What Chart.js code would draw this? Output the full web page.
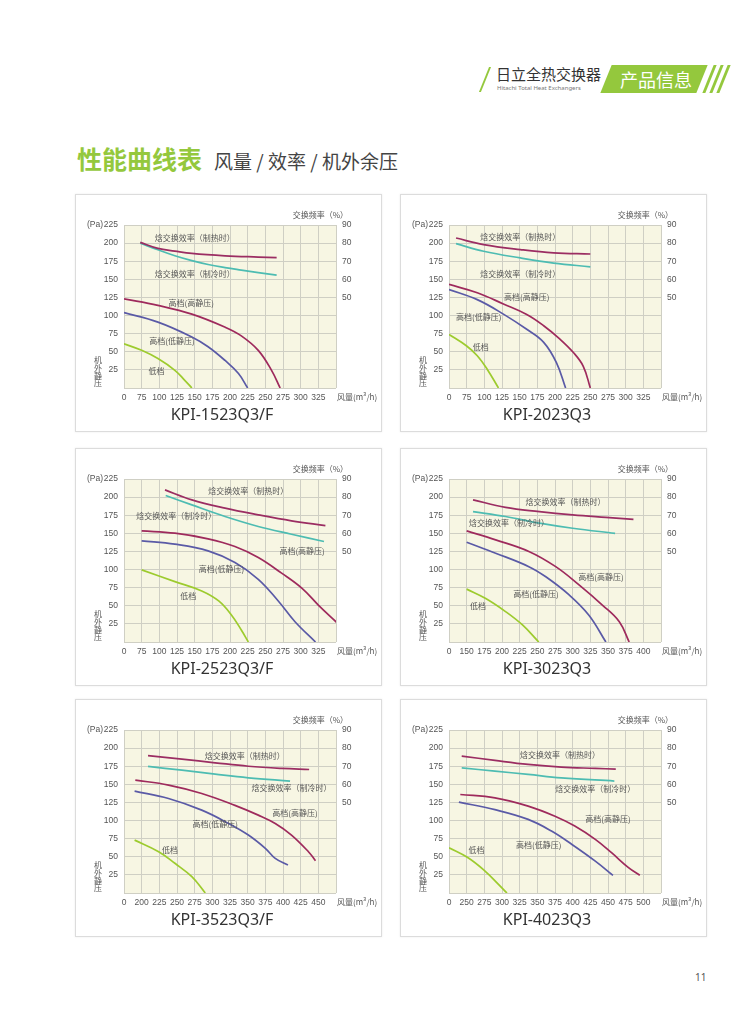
<!DOCTYPE html>
<html>
<head>
<meta charset="utf-8">
<script src="https://cdn.jsdelivr.net/npm/chart.js@4.4.0/dist/chart.umd.min.js"></script>
<style>
body { margin: 0; background: #fff; }
#page { position: relative; width: 750px; height: 1010px; overflow: hidden; background: #fff;
        font-family: "Noto Sans CJK SC", "Noto Sans", sans-serif; }
.box { position: absolute; width: 307px; height: 238px; border: 1px solid #dcdcdc; box-sizing: border-box;
       box-shadow: 0 0 2px rgba(0,0,0,0.08); }
.chart { position: absolute; }
.abs { position: absolute; white-space: nowrap; }
</style>
</head>
<body>
<div id="page">
  <!-- cabecera -->
  <div class="abs" style="left:484px;top:67px;width:2px;height:25px;background:#94c83d;transform:skewX(-22deg);"></div>
  <div class="abs" style="left:496px;top:63px;font-size:15px;color:#333;">日立全热交换器</div>
  <div class="abs" style="left:497px;top:84px;font-size:6px;color:#777;font-family:'Noto Sans',sans-serif;">Hitachi Total Heat Exchangers</div>
  <div class="abs" style="left:606px;top:65px;width:96px;height:28px;background:#94c83d;transform:skewX(-22deg);"></div>
  <div class="abs" style="left:620px;top:66px;font-size:18px;color:#fff;">产品信息</div>
  <div class="abs" style="left:708px;top:65px;width:3px;height:28px;background:#94c83d;transform:skewX(-22deg);"></div>
  <div class="abs" style="left:715px;top:65px;width:3px;height:28px;background:#94c83d;transform:skewX(-22deg);"></div>
  <div class="abs" style="left:722px;top:65px;width:3px;height:28px;background:#94c83d;transform:skewX(-22deg);"></div>

  <div class="abs" style="left:77px;top:140px;font-size:25px;font-weight:bold;color:#94c83d;">性能曲线表</div>
  <div class="abs" style="left:214px;top:147px;font-size:19px;color:#444;">风量 / 效率 / 机外余压</div>

  <div class="abs" style="left:695px;top:970px;font-size:10px;color:#555;font-family:'Noto Sans',sans-serif;">11</div>
</div>

<script>
// nombres y ejes
const modelNames = ['KPI-1523Q3/F', 'KPI-2023Q3', 'KPI-2523Q3/F', 'KPI-3023Q3', 'KPI-3523Q3/F', 'KPI-4023Q3'];
const seriesNames = ['焓交换效率（制热时）', '焓交换效率（制冷时）', '高档(高静压)', '高档(低静压)', '低档'];
const flowMin = [50, 50, 50, 125, 175, 225];
const flowMax = [350, 350, 350, 425, 475, 525];
const pressureTicks = [25, 50, 75, 100, 125, 150, 175, 200, 225];
const efficiencyTicks = [50, 60, 70, 80, 90];

// curvas: [风量 m3/h, 效率 % o 静压 Pa]
const heat1523 = [[73,80.4],[98,77.1],[122,75.6],[146,74.3],[193,73],[240,72.3],[266,72]];
const cool1523 = [[73,80],[98,76.3],[122,73],[146,70.3],[169,68.2],[193,66.5],[216,65.1],[240,63.7],[266,62.3]];
const high1523 = [[50,123],[98,114],[146,102],[193,84],[216,72],[240,52],[259,24],[271,0]];
const low1523  = [[50,104],[98,91],[146,70.5],[169,57],[193,38],[212,20],[225,0]];
const eco1523  = [[50,61],[75,52],[98,40.6],[122,24.4],[136,10.6],[146,0]];

const heat2023 = [[60,82.8],[99,79.2],[151,76.4],[198,74.6],[250,74]];
const cool2023 = [[60,79.7],[99,75.5],[151,71.8],[198,69],[250,66.9]];
const high2023 = [[50,143],[90,131.5],[127,116],[160,101.5],[184,86],[207,67.5],[226,49],[240,30],[250,0]];
const low2023  = [[50,136],[90,122],[127,102],[160,81],[184,63],[202,35],[215,0]];
const eco2023  = [[50,74],[75,58],[90,44.5],[104,26],[120,0]];

const heat2523 = [[108,84],[146,78.5],[193,73.9],[240,70.2],[287,66.9],[335,64.3]];
const cool2523 = [[109,80.9],[146,75.7],[193,69.3],[240,63.8],[287,59.5],[333,55.5]];
const high2523 = [[75,153.4],[122,150.2],[169,142.4],[207,131.8],[240,116.6],[273,95],[302,74],[325,51],[351,27]];
const low2523  = [[75,139.6],[122,135],[169,125.8],[207,109.7],[240,86.6],[268,57],[292,28],[321,0]];
const eco2523  = [[75,99.5],[122,83.4],[160,70.5],[184,56.7],[202,37.3],[216,16.6],[226,0]];

const heat3023 = [[159,78.5],[205,74.3],[253,72],[300,70.2],[347,68.8],[386,67.7]];
const cool3023 = [[159,72],[205,69.3],[253,65.6],[300,62.8],[360,60]];
const high3023 = [[150,153.4],[191,141],[238,125],[276,104],[309,78.8],[342,51],[366,28],[380,0]];
const low3023  = [[150,137.8],[191,122.6],[238,104],[262,90],[295,65],[323,37],[347,0]];
const eco3023  = [[150,73],[177,60],[205,42],[229,23.5],[252,0]];

const heat3523 = [[209,75.8],[257,73.9],[304,71.9],[351,70],[398,68.8],[437,68.2]];
const cool3523 = [[209,69.9],[257,67.8],[304,65.6],[351,63.6],[410,61.8]];
const high3523 = [[191,155.8],[238,149],[285,137.4],[332,121],[365,107.5],[389,96],[412,80],[436,57],[446,44.6]];
const low3523  = [[190,140.6],[238,130.5],[285,114.4],[323,96],[351,80],[375,61.6],[389,47.8],[407,38.6]];
const eco3523  = [[190,73],[224,57],[247,41],[271,22.5],[290,0]];

const heat4023 = [[243,75.6],[290,73.2],[337,71],[384,69.5],[432,68.8],[461,68.4]];
const cool4023 = [[243,69.1],[290,67.3],[337,65.5],[384,63.6],[459,61.8]];
const high4023 = [[241,136],[290,131.4],[337,120],[375,106],[403,92.4],[432,74],[455,55.6],[479,35],[495,24.4]];
const low4023  = [[239,125.5],[290,115],[337,101.6],[370,85.5],[399,67],[432,44],[457,24.4]];
const eco4023  = [[225,62.5],[252,48.7],[276,30.3],[295,12],[307,0]];

const chartCurves = [
  [heat1523, cool1523, high1523, low1523, eco1523],
  [heat2023, cool2023, high2023, low2023, eco2023],
  [heat2523, cool2523, high2523, low2523, eco2523],
  [heat3023, cool3023, high3023, low3023, eco3023],
  [heat3523, cool3523, high3523, low3523, eco3523],
  [heat4023, cool4023, high4023, low4023, eco4023]
];

const seriesColors = ['#9b2d62', '#4dbcb2', '#9e2a5c', '#5a5aa6', '#9dcb2e'];
const gridColor = '#cfcfc4';
const tickColor = '#555';
const tickFamily = '"Liberation Sans Narrow", "Liberation Sans", sans-serif';

// posición de los textos de cada curva (en unidades de datos: 风量, Pa)
const curveLabelPos = [
  [[150,207.5],[150,158],[145,117],[118,65],[96,24]],
  [[151,208],[151,158],[160,125],[92,98],[95,57]],
  [[226,208],[124,174],[302,125],[188,101],[141,63]],
  [[290,193],[210,164],[340,90],[248,67],[166,50]],
  [[346,189],[412,145],[417,110],[304,95],[240,59]],
  [[382,190],[432,143],[450,102],[352,67],[264,60]]
];

// posiciones de los paneles en la página
const panelLeft = [75, 400];
const panelTop = [194, 448, 699];

const panelDecor = {
  id: 'panelDecor',
  beforeDraw(chart) {
    const a = chart.chartArea;
    const c = chart.ctx;
    c.save();
    c.fillStyle = '#f7f6e3';
    c.fillRect(a.left, a.top, a.right - a.left, a.bottom - a.top);
    c.restore();
  },
  afterDraw(chart) {
    const o = chart.options.plugins.panelDecor;
    const a = chart.chartArea;
    const c = chart.ctx;
    const sx = chart.scales.x, sy = chart.scales.y;
    c.save();
    c.fillStyle = tickColor;
    c.font = '8px "Noto Sans CJK SC"';
    c.textBaseline = 'middle';

    // textos de las curvas
    c.textAlign = 'center';
    o.labels.forEach((p, k) => {
      c.fillText(seriesNames[k], sx.getPixelForValue(p[0]), sy.getPixelForValue(p[1]));
    });

    // unidades
    c.font = '8.5px ' + tickFamily;
    c.textAlign = 'right';
    c.fillText('(Pa)', a.left - 21, a.top);
    c.font = '8px "Noto Sans CJK SC"';
    c.fillText('交换频率（%）', a.right + 12, a.top - 10);
    c.textAlign = 'left';
    c.fillText('风量(m³/h)', a.right + 1, a.bottom + 9);
    c.textAlign = 'center';
    ['机', '外', '静', '压'].forEach((ch, k) => {
      c.fillText(ch, a.left - 26, a.bottom - 28 + k * 7.8);
    });

    // modelo
    c.fillStyle = '#333';
    c.font = '16px "Noto Sans"';
    c.fillText(o.model, (a.left + a.right) / 2 - 8, a.bottom + 27);
    c.restore();
  }
};

const page = document.getElementById('page');

modelNames.forEach((model, i) => {
  const left = panelLeft[i % 2];
  const top = panelTop[Math.floor(i / 2)];

  const box = document.createElement('div');
  box.className = 'box';
  box.style.left = left + 'px';
  box.style.top = top + 'px';
  page.appendChild(box);

  const canvas = document.createElement('canvas');
  canvas.className = 'chart';
  canvas.width = 307;
  canvas.height = 238;
  canvas.style.left = left + 'px';
  canvas.style.top = top + 'px';
  page.appendChild(canvas);

  const xmin = flowMin[i], xmax = flowMax[i];
  const tickFont = { family: tickFamily, size: 8.5 };

  new Chart(canvas, {
    type: 'line',
    data: {
      datasets: chartCurves[i].map((pts, k) => ({
        label: seriesNames[k],
        data: pts.map(p => ({ x: p[0], y: p[1] })),
        yAxisID: k < 2 ? 'y2' : 'y',
        borderColor: seriesColors[k],
        borderWidth: 1.7,
        pointRadius: 0,
        tension: 0.4,
        fill: false
      }))
    },
    options: {
      responsive: false,
      animation: false,
      layout: { padding: { top: 31, left: 0, right: 0, bottom: 0 } },
      plugins: {
        legend: { display: false },
        tooltip: { enabled: false },
        panelDecor: { model: model, labels: curveLabelPos[i] }
      },
      scales: {
        x: {
          type: 'linear',
          min: xmin,
          max: xmax,
          ticks: {
            stepSize: 25,
            autoSkip: false,
            maxRotation: 0,
            padding: 5,
            color: tickColor,
            font: tickFont,
            callback: v => v === xmin ? '0' : (v === xmax ? '' : v)
          },
          grid: { color: gridColor, drawTicks: false },
          border: { display: false },
          afterFit: s => { s.height = 44; }
        },
        y: {
          position: 'left',
          min: 0,
          max: 225,
          afterBuildTicks: s => { s.ticks = [0].concat(pressureTicks).map(v => ({ value: v })); },
          ticks: {
            padding: 6,
            color: tickColor,
            font: tickFont,
            callback: v => v === 0 ? '' : v
          },
          grid: { color: gridColor, drawTicks: false },
          border: { display: false },
          afterFit: s => { s.width = 49; }
        },
        y2: {
          position: 'right',
          min: 0,
          max: 90,
          afterBuildTicks: s => { s.ticks = efficiencyTicks.map(v => ({ value: v })); },
          ticks: {
            padding: 6,
            color: tickColor,
            font: tickFont
          },
          grid: { display: false, drawTicks: false },
          border: { display: false },
          afterFit: s => { s.width = 46; }
        }
      }
    },
    plugins: [panelDecor]
  });
});
</script>
</body>
</html>
